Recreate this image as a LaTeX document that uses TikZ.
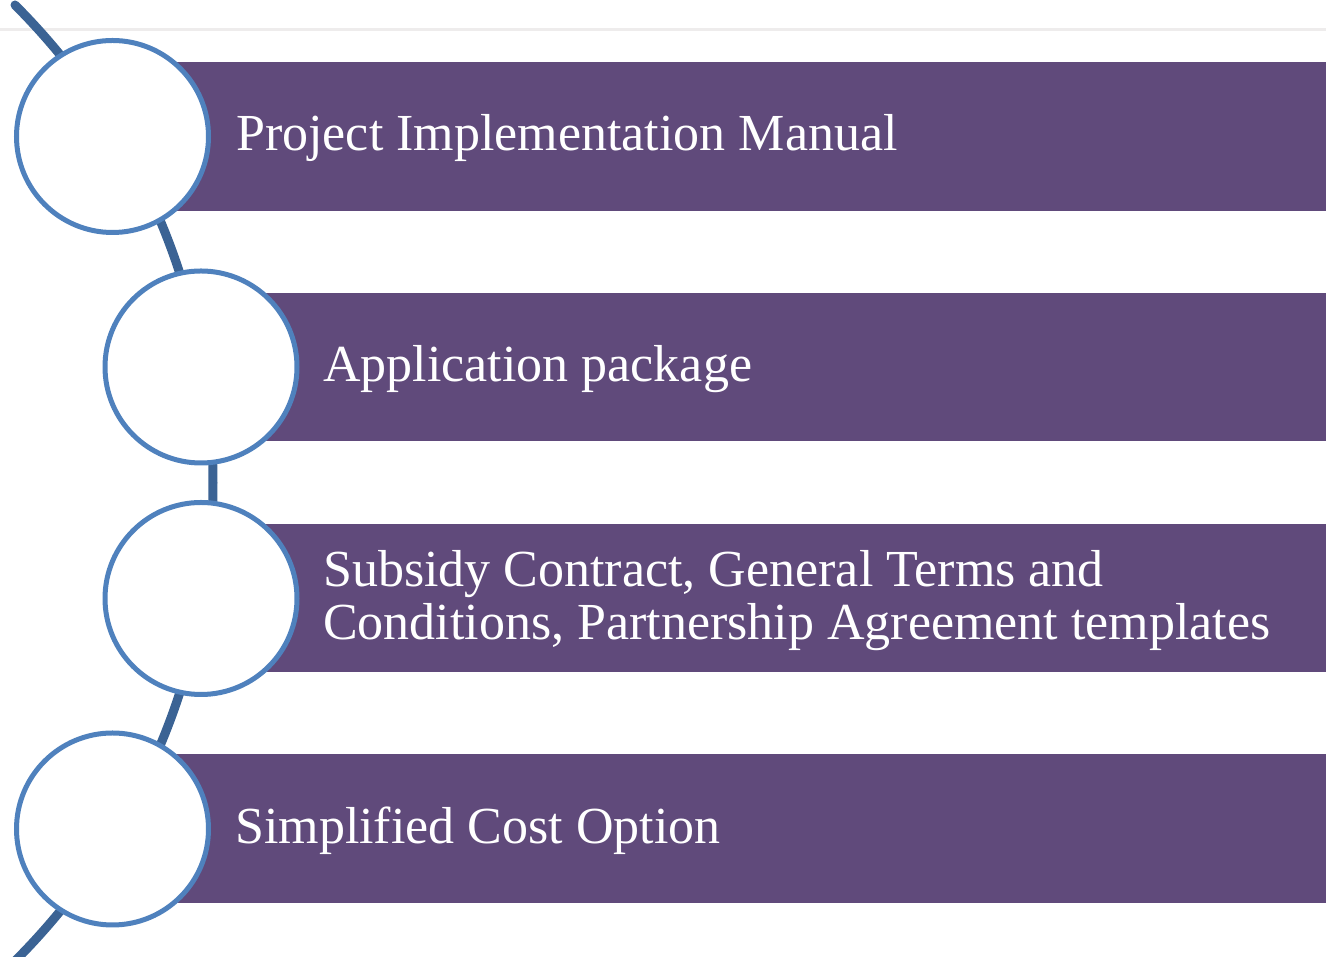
\documentclass[tikz,border=0pt]{standalone}
\usepackage{fontspec}
\setmainfont{Liberation Serif}
\usepackage{xcolor}
\usetikzlibrary{arrows,shapes,calc,positioning}
\definecolor{barpurple}{HTML}{604A7B}
\definecolor{ringblue}{HTML}{4F81BD}
\definecolor{spineblue}{HTML}{3B6394}
\definecolor{rulegray}{HTML}{EEECEC}

\begin{document}
\begin{tikzpicture}[x=1pt, y=1pt]
		\tikzstyle{every node}=[font=\fontsize{52}{53}\selectfont]
		\tikzstyle{band}=[fill=barpurple]
		\tikzstyle{ringnode}=[circle, draw=ringblue, line width=5pt, fill=white, minimum size=192pt, inner sep=0pt]
		\tikzstyle{bandtext}=[anchor=west, align=left, inner sep=0pt, text=white, yshift=-2pt]
		\useasboundingbox (0,0) rectangle (1326,957);
		\draw [line width=3pt, rulegray] (0,927) -- (1326,927);
		\draw [line width=9pt, spineblue, line cap=round] (15,952) arc (45:-45:676pt);
		\fill [band] (112.5,746) rectangle (1326,895);
		\fill [band] (201,516) rectangle (1326,664);
		\fill [band] (201,285) rectangle (1326,433);
		\fill [band] (112.5,54) rectangle (1326,203);
		\node [ringnode] (p1) at (112.5,820.5) {};
		\node [ringnode] (p2) at (201,590) {};
		\node [ringnode] (p3) at (201,358.5) {};
		\node [ringnode] (p4) at (112.5,128) {};
		\node [bandtext] (t1) at (236,820.5) {Project Implementation Manual};
		\node [bandtext] (t2) at (323,590) {Application package};
		\node [bandtext] (t3) at (323,358.5) {Subsidy Contract, General Terms and\\Conditions, Partnership Agreement templates};
		\node [bandtext] (t4) at (235,128) {Simplified Cost Option};
	\end{tikzpicture}
\end{document}
